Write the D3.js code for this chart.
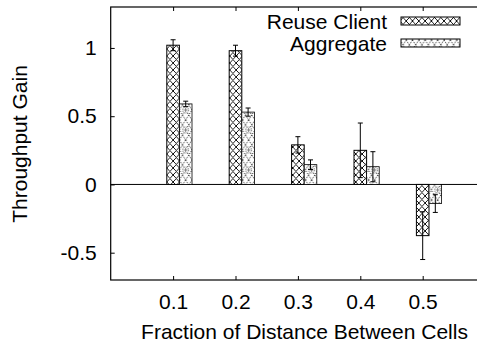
<!DOCTYPE html>
<html>
<head>
<meta charset="utf-8">
<script src="https://cdn.jsdelivr.net/npm/d3@7/dist/d3.min.js"></script>
<style>
  html, body { margin: 0; padding: 0; background: #fff; }
  svg { display: block; }
  text { font-family: "Liberation Sans", Arial, Helvetica, sans-serif; fill: #000; }
</style>
</head>
<body>
<svg id="chart" width="477" height="346"></svg>
<script>
// ---- data ----
const categories = ["0.1", "0.2", "0.3", "0.4", "0.5"];
const xValues = [0.1, 0.2, 0.3, 0.4, 0.5];
const reuseClient = [1.02, 0.98, 0.29, 0.25, -0.375];
const reuseClientErr = [0.04, 0.04, 0.06, 0.2, 0.175];
const aggregate = [0.59, 0.53, 0.145, 0.13, -0.14];
const aggregateErr = [0.02, 0.03, 0.035, 0.11, 0.065];
const yTicks = [-0.5, 0, 0.5, 1];
const yTickLabels = ["-0.5", "0", "0.5", "1"];
const seriesNames = ["Reuse Client", "Aggregate"];
const xTitle = "Fraction of Distance Between Cells";
const yTitle = "Throughput Gain";

// ---- layout ----
const svg = d3.select("#chart");
const pLeft = 110.7, pRight = 485.1, pTop = 7, pBottom = 280;
const x = d3.scaleLinear().domain([0, 0.6]).range([pLeft, pRight]);
const y = d3.scaleLinear().domain([-0.7, 1.3]).range([pBottom, pTop]);
const bw = x(0.0202) - x(0);
const FS = 21;

// ---- patterns ----
const defs = svg.append("defs");
const p1 = defs.append("pattern").attr("id", "pReuse").attr("patternUnits", "userSpaceOnUse")
  .attr("width", 6.3).attr("height", 7).attr("x", x(0.1) - bw / 2);
p1.append("rect").attr("width", 6.3).attr("height", 7).attr("fill", "#fff");
p1.append("path").attr("d", "M0,0L6.3,7M0,7L6.3,0").attr("stroke", "#000").attr("stroke-width", 0.9);

const p2 = defs.append("pattern").attr("id", "pAgg").attr("patternUnits", "userSpaceOnUse")
  .attr("width", 12.6).attr("height", 20).attr("x", x(0.1) + bw / 2);
p2.append("rect").attr("width", 12.6).attr("height", 20).attr("fill", "#fff");
p2.append("path").attr("d", "M0,0L12.6,20M0,20L12.6,0M6.3,0L0,10L6.3,20L12.6,10Z")
  .attr("stroke", "#000").attr("stroke-width", 0.9).attr("stroke-dasharray", "1,1.2").attr("fill", "none");
p2.append("circle").attr("cx", 6.3).attr("cy", 10).attr("r", 3).attr("fill", "#fff")
  .attr("stroke", "#444").attr("stroke-width", 0.8).attr("stroke-dasharray", "1,0.8");
p2.append("path").attr("d", "M4.3,10L8.3,10M6.3,8L6.3,12").attr("stroke", "#555").attr("stroke-width", 0.7);

// ---- zero line ----
svg.append("line").attr("x1", pLeft).attr("x2", pRight).attr("y1", y(0)).attr("y2", y(0))
  .attr("stroke", "#000").attr("stroke-width", 1);

// ---- bars ----
const data = xValues.map((v, i) => ({v, r: reuseClient[i], re: reuseClientErr[i], a: aggregate[i], ae: aggregateErr[i]}));

svg.append("g").selectAll("rect").data(data).join("rect")
  .attr("x", d => x(d.v) - bw / 2)
  .attr("y", d => y(Math.max(0, d.r)))
  .attr("width", bw)
  .attr("height", d => Math.abs(y(d.r) - y(0)))
  .attr("fill", "url(#pReuse)").attr("stroke", "#000").attr("stroke-width", 1);

svg.append("g").selectAll("rect").data(data).join("rect")
  .attr("x", d => x(d.v) + bw / 2)
  .attr("y", d => y(Math.max(0, d.a)))
  .attr("width", bw)
  .attr("height", d => Math.abs(y(d.a) - y(0)))
  .attr("fill", "url(#pAgg)").attr("stroke", "#000").attr("stroke-width", 0.8);

// ---- error bars ----
function errBars(cx, val, err) {
  const g = svg.append("g").attr("stroke", "#000").attr("stroke-width", 1);
  data.forEach(d => {
    const c = cx(d), v = val(d), e = err(d);
    g.append("line").attr("x1", c).attr("x2", c).attr("y1", y(v - e)).attr("y2", y(v + e));
    g.append("line").attr("x1", c - 2.5).attr("x2", c + 2.5).attr("y1", y(v + e)).attr("y2", y(v + e));
    g.append("line").attr("x1", c - 2.5).attr("x2", c + 2.5).attr("y1", y(v - e)).attr("y2", y(v - e));
  });
}
errBars(d => x(d.v), d => d.r, d => d.re);
errBars(d => x(d.v) + bw, d => d.a, d => d.ae);

// ---- frame ----
svg.append("rect").attr("x", pLeft).attr("y", pTop).attr("width", pRight - pLeft).attr("height", pBottom - pTop)
  .attr("fill", "none").attr("stroke", "#000").attr("stroke-width", 1.2);

// ---- axes ----
const yAxis = d3.axisLeft(y).tickValues(yTicks).tickFormat((d, i) => yTickLabels[i]).tickSizeInner(-4).tickSizeOuter(0).tickPadding(14);
const gy = svg.append("g").attr("transform", `translate(${pLeft},0)`).call(yAxis);
gy.select(".domain").remove();
gy.selectAll("text").attr("font-size", FS).attr("font-family", "Liberation Sans, Arial, sans-serif");

const xAxis = d3.axisBottom(x).tickValues(xValues).tickFormat((d, i) => categories[i]).tickSizeInner(-4).tickSizeOuter(0).tickPadding(14);
const gx = svg.append("g").attr("transform", `translate(0,${pBottom})`).call(xAxis);
gx.select(".domain").remove();
gx.selectAll("text").attr("font-size", FS).attr("font-family", "Liberation Sans, Arial, sans-serif");

const xTopAxis = d3.axisTop(x).tickValues(xValues).tickFormat("").tickSizeInner(-4).tickSizeOuter(0);
const gxt = svg.append("g").attr("transform", `translate(0,${pTop})`).call(xTopAxis);
gxt.select(".domain").remove();

// ---- titles ----
svg.append("text").attr("x", (142 + 467) / 2).attr("y", 339).attr("text-anchor", "middle")
  .attr("font-size", FS).text(xTitle);
svg.append("text").attr("transform", "translate(27,144) rotate(-90)").attr("text-anchor", "middle")
  .attr("font-size", FS).text(yTitle);

// ---- legend ----
const legend = svg.append("g");
const legY = [29, 51];
const fills = ["url(#pReuse)", "url(#pAgg)"];
seriesNames.forEach((n, i) => {
  legend.append("text").attr("x", 387).attr("y", legY[i]).attr("text-anchor", "end").attr("font-size", FS).text(n);
  legend.append("rect").attr("x", 401).attr("y", legY[i] - 12).attr("width", 59).attr("height", 8)
    .attr("fill", fills[i]).attr("stroke", "#000").attr("stroke-width", 1);
});
</script>
</body>
</html>
